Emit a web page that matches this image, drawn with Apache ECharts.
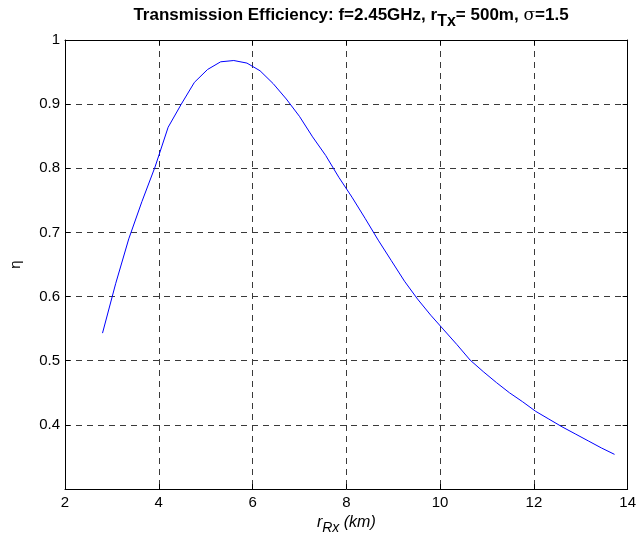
<!DOCTYPE html>
<html>
<head>
<meta charset="utf-8">
<script src="https://cdn.jsdelivr.net/npm/echarts@6/dist/echarts.min.js"></script>
<style>html,body{margin:0;padding:0;background:#fff;}#c{width:639px;height:540px;}</style>
</head>
<body>
<div id="c"></div>
<script>
// r_Rx (km)
const rRx = [2.80,3.08,3.36,3.64,3.92,4.20,4.48,4.76,5.04,5.32,5.60,5.88,6.16,6.44,6.72,7.00,7.28,7.56,7.84,8.12,
             8.40,8.68,8.96,9.24,9.52,9.80,10.08,10.36,10.64,10.92,11.20,11.48,11.76,12.04,12.32,12.60,12.88,13.16,13.44,13.72];
// transmission efficiency eta
const eta = [0.543,0.620,0.690,0.748,0.802,0.864,0.900,0.934,0.954,0.966,0.968,0.964,0.952,0.932,0.908,0.881,0.849,0.820,0.786,0.755,
             0.722,0.688,0.656,0.624,0.596,0.571,0.548,0.525,0.501,0.483,0.466,0.450,0.436,0.421,0.409,0.397,0.386,0.375,0.364,0.354];
const xTicks = [2,4,6,8,10,12,14];
const yTicks = [0.4,0.5,0.6,0.7,0.8,0.9,1];

const chart = echarts.init(document.getElementById('c'));
const font = 'Liberation Sans, Arial, sans-serif';
const gridLine = {show:true, lineStyle:{color:'#3a3a3a', width:1, type:[6,5]}};
const pts = rRx.map((x,i)=>[x, eta[i]]);
chart.setOption({
  animation:false,
  backgroundColor:'#fff',
  title:{
    left:346, textAlign:'center', top:2,
    text:'{b|Transmission Efficiency: f=2.45GHz, r}{s|Tx}{b|= 500m, }{g|σ}{b|=1.5}',
    textStyle:{
      rich:{
        b:{fontFamily:font, fontWeight:'bold', fontSize:17, color:'#000', verticalAlign:'top', lineHeight:20},
        s:{fontFamily:font, fontWeight:'bold', fontSize:16, color:'#000', padding:[7,0,0,0], verticalAlign:'top', lineHeight:20},
        g:{fontFamily:'DejaVu Serif, serif', fontWeight:'normal', fontSize:17, color:'#000', verticalAlign:'top', lineHeight:20}
      }
    }
  },
  grid:{left:63, right:9, top:40, bottom:51, containLabel:false},
  xAxis:[{
    type:'value', min:2, max:14, interval:2, position:'bottom',
    axisLine:{show:true, onZero:false, lineStyle:{color:'#000', width:1}},
    axisTick:{show:true, inside:true, length:5, lineStyle:{color:'#000'}},
    axisLabel:{color:'#000', fontFamily:font, fontSize:15, margin:6},
    splitLine:gridLine,
    name:'{i|r}{sub|Rx}{i| (km)}', nameLocation:'middle', nameGap:24,
    nameTextStyle:{rich:{
      i:{fontFamily:font, fontStyle:'italic', fontSize:16, color:'#000', verticalAlign:'top', lineHeight:18},
      sub:{fontFamily:font, fontStyle:'italic', fontSize:14, color:'#000', padding:[6,0,0,0], verticalAlign:'top', lineHeight:18}
    }}
  },{
    type:'value', min:2, max:14, interval:2, position:'top',
    axisLine:{show:true, onZero:false, lineStyle:{color:'#000', width:1}},
    axisTick:{show:true, inside:true, length:5, lineStyle:{color:'#000'}},
    axisLabel:{show:false}, splitLine:{show:false}
  }],
  yAxis:[{
    type:'value', min:0.3, max:1, interval:0.1, position:'left',
    axisLine:{show:true, onZero:false, lineStyle:{color:'#000', width:1}},
    axisTick:{show:true, inside:true, length:5, lineStyle:{color:'#000'}},
    axisLabel:{color:'#000', fontFamily:font, fontSize:15, margin:5, showMinLabel:false,
      formatter:v=>{const r=Math.round(v*10)/10; return yTicks.indexOf(r)>=0 ? String(r) : '';}},
    splitLine:gridLine,
    name:'η', nameLocation:'middle', nameGap:42, nameRotate:90,
    nameTextStyle:{fontFamily:font, fontSize:15, color:'#000'}
  },{
    type:'value', min:0.3, max:1, interval:0.1, position:'right',
    axisLine:{show:true, onZero:false, lineStyle:{color:'#000', width:1}},
    axisTick:{show:true, inside:true, length:5, lineStyle:{color:'#000'}},
    axisLabel:{show:false}, splitLine:{show:false}
  }],
  series:[{
    type:'line', data:pts, xAxisIndex:0, yAxisIndex:0,
    showSymbol:false, symbol:'none', smooth:false,
    lineStyle:{color:'#0000ff', width:1},
    z:5
  }]
});
</script>
</body>
</html>
